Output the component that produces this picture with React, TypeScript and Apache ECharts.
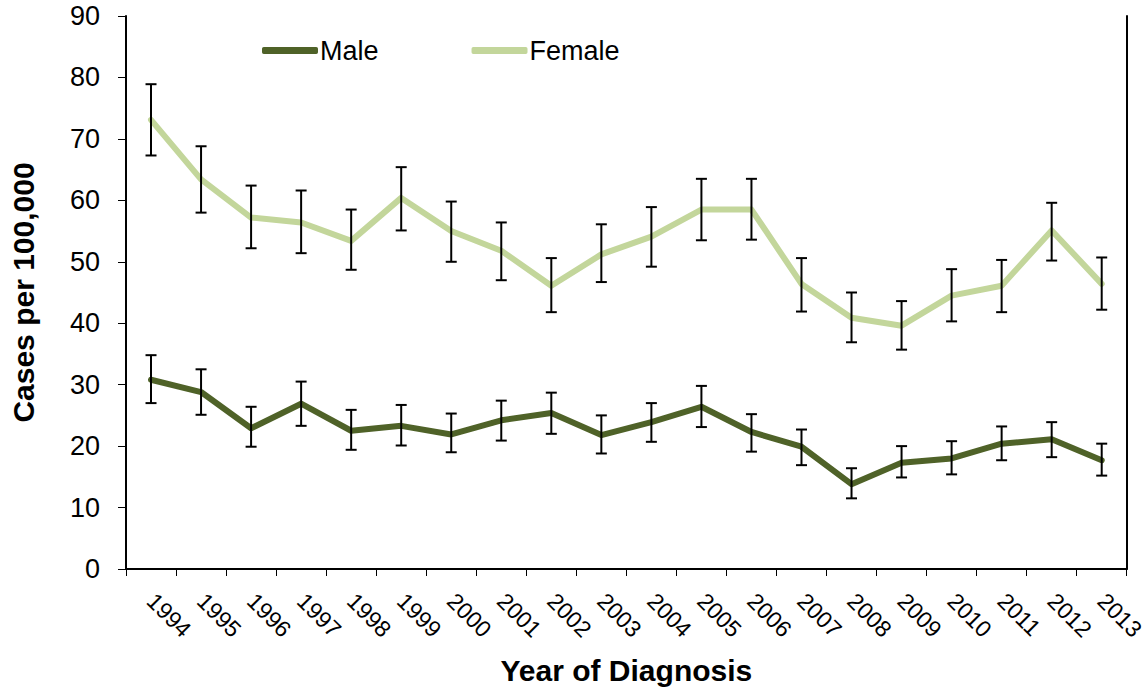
import React, { useEffect, useRef } from "react";
import * as echarts from "echarts";

const years = ["1994","1995","1996","1997","1998","1999","2000","2001","2002","2003","2004","2005","2006","2007","2008","2009","2010","2011","2012","2013"];

const maleRate = [30.8, 28.8, 22.9, 26.9, 22.5, 23.3, 21.9, 24.2, 25.4, 21.8, 23.9, 26.4, 22.3, 19.9, 13.8, 17.3, 18.0, 20.4, 21.1, 17.7];
const maleLow = [27.0, 25.1, 19.9, 23.3, 19.4, 20.1, 19.0, 20.9, 22.0, 18.8, 20.7, 23.1, 19.1, 16.9, 11.5, 14.9, 15.4, 17.7, 18.2, 15.2];
const maleHigh = [34.8, 32.5, 26.4, 30.5, 25.9, 26.7, 25.3, 27.4, 28.7, 25.0, 27.0, 29.8, 25.2, 22.7, 16.4, 20.0, 20.8, 23.2, 23.9, 20.4];

const femaleRate = [73.1, 63.4, 57.2, 56.4, 53.4, 60.4, 55.0, 51.8, 46.1, 51.2, 54.1, 58.5, 58.5, 46.4, 40.9, 39.6, 44.5, 46.1, 55.1, 46.4];
const femaleLow = [67.3, 58.0, 52.2, 51.4, 48.7, 55.1, 50.0, 47.0, 41.8, 46.7, 49.2, 53.5, 53.6, 41.9, 36.9, 35.7, 40.3, 41.8, 50.2, 42.2];
const femaleHigh = [78.9, 68.8, 62.4, 61.6, 58.5, 65.4, 59.8, 56.4, 50.6, 56.1, 58.9, 63.5, 63.5, 50.6, 45.0, 43.6, 48.8, 50.3, 59.6, 50.7];

const FONT = "'Liberation Sans', Arial, sans-serif";
const MALE_COLOR = "#4F6228";
const FEMALE_COLOR = "#C3D69B";

function errorData(low: number[], high: number[]) {
  return low.map((l, i) => [i, l, high[i]]);
}

function renderError(params: any, api: any) {
  const x = api.value(0);
  const lo = api.coord([x, api.value(1)]);
  const hi = api.coord([x, api.value(2)]);
  const hw = 5.5;
  const style = { stroke: "#000", lineWidth: 2, fill: "none" };
  return {
    type: "group",
    children: [
      { type: "line", shape: { x1: hi[0], y1: hi[1], x2: lo[0], y2: lo[1] }, style },
      { type: "line", shape: { x1: hi[0] - hw, y1: hi[1], x2: hi[0] + hw, y2: hi[1] }, style },
      { type: "line", shape: { x1: lo[0] - hw, y1: lo[1], x2: lo[0] + hw, y2: lo[1] }, style },
    ],
  };
}

export default function App() {
  const ref = useRef<HTMLDivElement>(null);
  useEffect(() => {
    if (!ref.current) return;
    const chart = echarts.init(ref.current, null, { renderer: "svg" });
    chart.setOption({
      animation: false,
      backgroundColor: "#fff",
      textStyle: { fontFamily: FONT },
      grid: { left: 122, right: 20, top: 16, bottom: 119 },
      legend: {
        left: 262,
        top: 37,
        padding: 0,
        itemGap: 93,
        itemWidth: 56,
        itemHeight: 7,
        icon: "roundRect",
        textStyle: { fontSize: 27, color: "#000", fontFamily: FONT, padding: [0, 0, 0, -3] },
        data: [
          { name: "Male", itemStyle: { color: MALE_COLOR } },
          { name: "Female", itemStyle: { color: FEMALE_COLOR } },
        ],
      },
      xAxis: {
        type: "category",
        data: years,
        boundaryGap: true,
        name: "Year of Diagnosis",
        nameLocation: "middle",
        nameGap: 86,
        nameTextStyle: { fontSize: 30, fontWeight: "bold", color: "#000", fontFamily: FONT },
        axisLine: { lineStyle: { color: "#000", width: 2 } },
        axisTick: { show: true, alignWithLabel: false, interval: 0, length: 7, lineStyle: { color: "#000", width: 1 } },
        axisLabel: { interval: 0, rotate: -45, fontSize: 23, color: "#000", margin: 28, fontFamily: FONT },
        splitLine: { show: false },
      },
      yAxis: [
        {
          type: "value",
          min: 0,
          max: 90,
          interval: 10,
          name: "Cases per 100,000",
          nameLocation: "middle",
          nameGap: 88,
          nameRotate: 90,
          nameTextStyle: { fontSize: 30, fontWeight: "bold", color: "#000", fontFamily: FONT },
          axisLine: { show: true, lineStyle: { color: "#000", width: 2 } },
          axisTick: { show: true, length: 8, lineStyle: { color: "#000", width: 1 } },
          axisLabel: { fontSize: 27, color: "#000", margin: 26, fontFamily: FONT },
          splitLine: { show: false },
        },
        {
          type: "value",
          min: 0,
          max: 90,
          interval: 10,
          position: "right",
          axisLine: { show: true, lineStyle: { color: "#000", width: 2 } },
          axisTick: { show: false },
          axisLabel: { show: false },
          splitLine: { show: false },
        },
      ],
      series: [
        {
          name: "Male",
          type: "line",
          data: maleRate,
          symbol: "none",
          color: MALE_COLOR,
          lineStyle: { color: MALE_COLOR, width: 6, cap: "round", join: "round" },
          z: 2,
        },
        {
          name: "Female",
          type: "line",
          data: femaleRate,
          symbol: "none",
          color: FEMALE_COLOR,
          lineStyle: { color: FEMALE_COLOR, width: 6, cap: "round", join: "round" },
          z: 2,
        },
        {
          name: "Male CI",
          type: "custom",
          data: errorData(maleLow, maleHigh),
          renderItem: renderError,
          encode: { x: 0, y: [1, 2] },
          z: 3,
          silent: true,
        },
        {
          name: "Female CI",
          type: "custom",
          data: errorData(femaleLow, femaleHigh),
          renderItem: renderError,
          encode: { x: 0, y: [1, 2] },
          z: 3,
          silent: true,
        },
      ],
    });
    return () => chart.dispose();
  }, []);
  return <div ref={ref} style={{ position: "fixed", left: 0, top: 0, width: 1148, height: 690 }} />;
}
